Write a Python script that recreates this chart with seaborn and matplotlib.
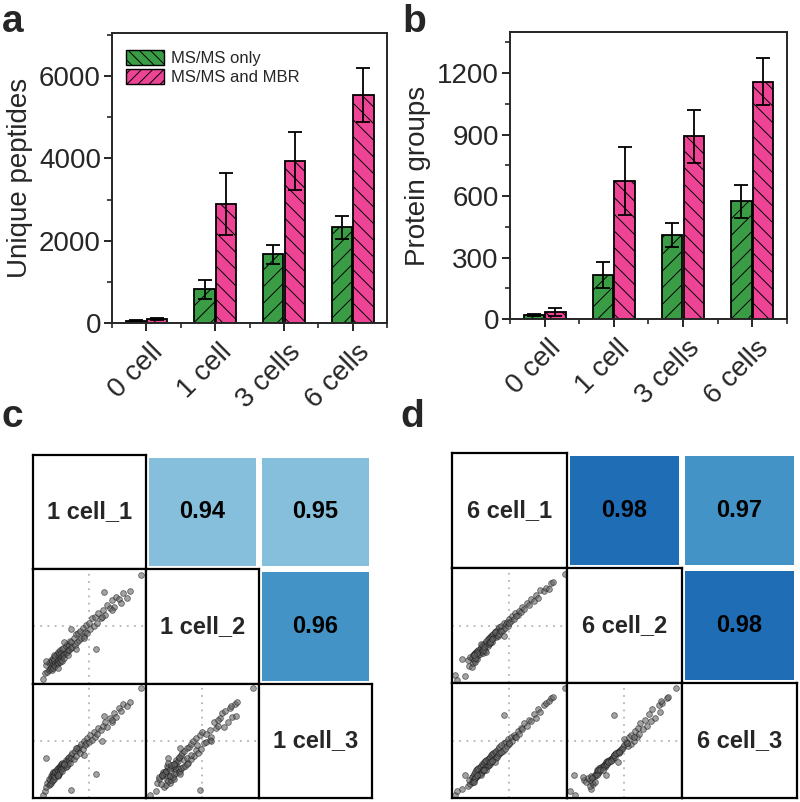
import numpy as np
import pandas as pd
import matplotlib
matplotlib.use('Agg')
import matplotlib.pyplot as plt
import matplotlib.transforms as mtransforms
from matplotlib.colors import ListedColormap, BoundaryNorm
from matplotlib.patches import Patch
import seaborn as sns

# bar chart data (a, b)
categories = ['0 cell', '1 cell', '3 cells', '6 cells']
groups = ['MS/MS only', 'MS/MS and MBR']
pep_only = [60, 820, 1670, 2330]
pep_only_err = [15, 240, 240, 280]
pep_mbr = [95, 2890, 3940, 5540]
pep_mbr_err = [20, 760, 700, 660]
prot_only = [22, 216, 410, 574]
prot_only_err = [5, 62, 57, 81]
prot_mbr = [37, 675, 891, 1159]
prot_mbr_err = [20, 167, 130, 117]

# correlation panels (c, d)
labels_c = ['1 cell_1', '1 cell_2', '1 cell_3']
labels_d = ['6 cell_1', '6 cell_2', '6 cell_3']
corr_c = [[1.0, 0.94, 0.95], [0.94, 1.0, 0.96], [0.95, 0.96, 1.0]]
corr_d = [[1.0, 0.98, 0.97], [0.98, 1.0, 0.98], [0.97, 0.98, 1.0]]

# scaled intensities (0-100 of each cell's range)
c_cell1 = [9, 11, 12, 13, 14, 14, 15, 15, 16, 16,
           17, 17, 17, 18, 18, 18, 19, 19, 19, 20,
           20, 20, 21, 21, 21, 22, 22, 22, 23, 23,
           23, 24, 24, 24, 25, 25, 25, 26, 26, 26,
           27, 27, 28, 28, 29, 29, 30, 30, 31, 31,
           32, 32, 33, 34, 34, 35, 36, 37, 38, 39,
           40, 41, 42, 43, 44, 45, 46, 47, 48, 50,
           51, 52, 54, 55, 57, 58, 60, 62, 64, 66,
           68, 70, 72, 74, 76, 78, 80, 83, 86, 96,
           56, 34, 12, 61, 63, 22, 45, 28, 38, 70]
c_cell2 = [4, 9, 16, 10, 18, 12, 13, 19, 14, 21,
           12, 20, 15, 22, 14, 17, 25, 16, 21, 18,
           24, 15, 19, 26, 17, 21, 28, 18, 25, 20,
           27, 22, 19, 29, 23, 27, 21, 30, 24, 20,
           25, 31, 26, 22, 33, 27, 28, 35, 29, 25,
           34, 29, 37, 31, 36, 32, 40, 34, 43, 36,
           44, 38, 46, 40, 49, 42, 45, 51, 44, 53,
           48, 57, 50, 58, 53, 62, 57, 64, 60, 69,
           66, 73, 67, 76, 74, 70, 79, 75, 81, 95,
           30, 48, 20, 58, 80, 14, 40, 36, 30, 64]
c_cell3 = [3, 6, 10, 13, 11, 17, 12, 16, 19, 13,
           18, 15, 21, 16, 20, 23, 17, 22, 19, 24,
           18, 23, 20, 25, 22, 19, 26, 24, 21, 27,
           22, 26, 28, 23, 27, 30, 25, 24, 29, 31,
           28, 26, 31, 29, 27, 33, 32, 28, 35, 30,
           33, 36, 31, 38, 35, 39, 34, 41, 37, 44,
           42, 45, 39, 47, 43, 50, 46, 48, 52, 49,
           55, 51, 58, 53, 56, 61, 59, 63, 66, 62,
           70, 66, 74, 71, 79, 76, 82, 80, 84, 96,
           21, 7, 35, 50, 72, 20, 38, 30, 44, 68]

d_cell1 = [3, 4, 11, 9, 14, 15, 16, 17, 17, 18,
           18, 19, 19, 20, 20, 21, 21, 22, 22, 23,
           23, 24, 24, 25, 25, 26, 26, 27, 27, 28,
           28, 29, 29, 30, 30, 31, 31, 32, 32, 33,
           33, 34, 34, 35, 35, 36, 36, 37, 38, 38,
           39, 40, 40, 41, 42, 43, 44, 45, 46, 47,
           48, 49, 50, 51, 52, 54, 55, 57, 58, 60,
           61, 63, 65, 67, 69, 71, 73, 75, 77, 80,
           82, 84, 86, 88, 98, 25, 45, 30, 20, 37,
           22, 27, 33, 41, 50, 19, 28, 35, 43, 56]
d_cell2 = [7, 3, 6, 21, 20, 15, 23, 14, 22, 24,
           17, 25, 20, 26, 18, 27, 22, 28, 21, 29,
           24, 30, 25, 31, 27, 33, 28, 32, 26, 34,
           30, 35, 28, 37, 33, 38, 32, 39, 34, 40,
           35, 41, 37, 42, 36, 43, 39, 44, 40, 45,
           42, 47, 41, 49, 45, 50, 46, 52, 48, 51,
           53, 50, 56, 54, 58, 56, 61, 59, 63, 62,
           66, 64, 70, 68, 73, 71, 77, 74, 81, 80,
           83, 82, 87, 88, 95, 34, 41, 27, 22, 44,
           26, 29, 36, 43, 52, 24, 31, 38, 45, 58]
d_cell3 = [3, 6, 20, 8, 10, 16, 12, 18, 14, 19,
           14, 21, 16, 23, 17, 24, 18, 25, 19, 26,
           20, 27, 21, 28, 22, 30, 23, 29, 24, 31,
           25, 32, 26, 33, 27, 34, 28, 35, 29, 36,
           30, 37, 31, 38, 32, 39, 33, 40, 35, 41,
           36, 43, 37, 44, 39, 46, 41, 48, 43, 49,
           45, 51, 47, 53, 50, 55, 53, 58, 56, 61,
           60, 65, 63, 68, 67, 73, 70, 77, 75, 81,
           83, 84, 87, 88, 96, 20, 72, 24, 17, 31,
           20, 24, 31, 39, 48, 14, 24, 32, 40, 53]

green = '#3a9d46'
pink = '#ee4496'

sns.set_style('ticks')
plt.rcParams['font.family'] = ['Liberation Sans', 'DejaVu Sans']
plt.rcParams['hatch.linewidth'] = 0.7

fig = plt.figure(figsize=(8, 8.02), dpi=100)


def bar_panel(rect, only, only_err, mbr, mbr_err, ylabel, ymax, step, legend):
    ax = fig.add_axes(rect)
    df = pd.DataFrame({'cat': categories * 2,
                       'group': [groups[0]] * 4 + [groups[1]] * 4,
                       'value': only + mbr})
    sns.barplot(data=df, x='cat', y='value', hue='group', palette=[green, pink],
                width=0.62, gap=0.05, edgecolor='black', linewidth=1.3,
                saturation=1, errorbar=None, legend=False, ax=ax)
    # hatches + error bars per hue level
    for cont, hatch, errs in zip(ax.containers, ['//', '\\\\'], [only_err, mbr_err]):
        xs, ys = [], []
        for bar in cont:
            bar.set_hatch(hatch)
            xs.append(bar.get_x() + bar.get_width() / 2)
            ys.append(bar.get_height())
        ax.errorbar(xs, ys, yerr=errs, fmt='none', ecolor='black',
                    elinewidth=1.3, capsize=5, capthick=1.3)
    ax.set_xlim(-0.5, 3.5)
    ax.set_ylim(0, ymax)
    ax.set_yticks(np.arange(0, ymax, step))
    ax.set_yticks(np.arange(step / 2, ymax, step), minor=True)
    ax.set_xticks([-0.5, 0.5, 1.5, 2.5, 3.5], minor=True)
    ax.set_xlabel('')
    ax.set_ylabel(ylabel, fontsize=20, labelpad=4)
    ax.tick_params(axis='both', which='major', labelsize=20, length=6, width=1.4, pad=2)
    ax.tick_params(axis='both', which='minor', length=3.5, width=1.2)
    for sp in ax.spines.values():
        sp.set_visible(True)
        sp.set_linewidth(1.4)
    # push the rotated category labels a bit right and down
    offset = mtransforms.ScaledTranslation(9 / 72, -10 / 72, fig.dpi_scale_trans)
    for lab in ax.get_xticklabels():
        lab.set_rotation(45)
        lab.set_ha('right')
        lab.set_va('center')
        lab.set_rotation_mode('anchor')
        lab.set_transform(lab.get_transform() + offset)
    if legend:
        handles = [Patch(facecolor=green, edgecolor='black', hatch='\\\\\\'),
                   Patch(facecolor=pink, edgecolor='black', hatch='///')]
        ax.legend(handles, groups, loc='upper left', bbox_to_anchor=(0.05, 0.94),
                  frameon=False, fontsize=12, handlelength=2.3, handleheight=1.0,
                  labelspacing=0.15, handletextpad=0.4, borderpad=0, borderaxespad=0)
    return ax


bar_panel([0.140, 0.597, 0.344, 0.362], pep_only, pep_only_err, pep_mbr, pep_mbr_err,
          'Unique peptides', 7050, 2000, True)
bar_panel([0.6375, 0.602, 0.346, 0.358], prot_only, prot_only_err, prot_mbr, prot_mbr_err,
          'Protein groups', 1400, 300, False)

# heat colours for the upper triangle
cmap = ListedColormap(['#86bfdc', '#4393c6', '#1f6db4'])
norm = BoundaryNorm([0.935, 0.955, 0.975, 0.99], cmap.N)


def corr_panel(rect, labels, samples, corr):
    ax = fig.add_axes(rect)
    mask = np.tril(np.ones((3, 3), dtype=bool))
    sns.heatmap(np.array(corr), mask=mask, cmap=cmap, norm=norm, annot=True, fmt='.2f',
                annot_kws=dict(size=17, weight='bold', color='black'),
                linewidths=3, linecolor='white', cbar=False,
                xticklabels=False, yticklabels=False, ax=ax)
    l, b, w, h = rect
    cw, ch = w / 3, h / 3
    for i in range(3):
        for j in range(i + 1):
            sub = fig.add_axes([l + j * cw, b + (2 - i) * ch, cw, ch])
            for sp in sub.spines.values():
                sp.set_linewidth(1.6)
                sp.set_color('black')
            if i == j:
                sub.set_xticks([])
                sub.set_yticks([])
                sub.text(0.5, 0.5, labels[i], ha='center', va='center',
                         fontsize=17, fontweight='bold', transform=sub.transAxes)
                continue
            sns.scatterplot(x=samples[j], y=samples[i], ax=sub, s=17,
                            color='#666666', edgecolor='#1a1a1a', linewidth=0.6,
                            alpha=0.6)
            sub.set_xlim(0, 100)
            sub.set_ylim(0, 100)
            sub.set_xticks([50])
            sub.set_yticks([50])
            sub.set_xticklabels([])
            sub.set_yticklabels([])
            sub.tick_params(length=0)
            sub.set_axisbelow(True)
            sub.grid(True, color='#b5b5b5', linestyle=(0, (1, 3)), linewidth=1.3)
            sub.set_xlabel('')
            sub.set_ylabel('')


corr_panel([0.041, 0.005, 0.424, 0.428], labels_c, [c_cell1, c_cell2, c_cell3], corr_c)
corr_panel([0.565, 0.005, 0.431, 0.430], labels_d, [d_cell1, d_cell2, d_cell3], corr_d)

# panel letters
for letter, x, y in [('a', 0.002, 0.960), ('b', 0.503, 0.960), ('c', 0.002, 0.468), ('d', 0.500, 0.468)]:
    fig.text(x, y, letter, fontsize=28, fontweight='bold', ha='left', va='baseline')

fig.savefig('out.png', dpi=100)
